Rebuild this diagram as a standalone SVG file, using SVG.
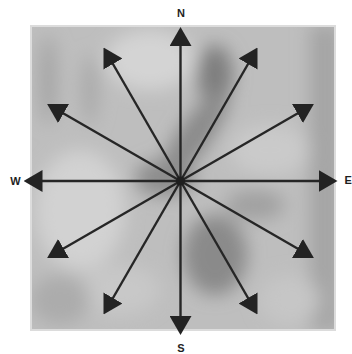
<svg xmlns="http://www.w3.org/2000/svg" width="352" height="354" viewBox="0 0 352 354">
  <defs>
    <filter id="blur" x="-20%" y="-20%" width="140%" height="140%">
      <feGaussianBlur stdDeviation="9"/>
    </filter>
    <clipPath id="sq">
      <rect x="30" y="25" width="306" height="306"/>
    </clipPath>
    <marker id="head" markerUnits="userSpaceOnUse" viewBox="0 0 19 22" markerWidth="19" markerHeight="22" refX="7" refY="11" orient="auto">
      <path d="M0,0 L19,11 L0,22 Z" fill="#232323"/>
    </marker>
  </defs>
  <style>
    .lbl { font-family: "Liberation Sans", Arial, sans-serif; font-weight: bold; font-size: 11px; fill: #1e1e1e; text-anchor: middle; }
    .arr { stroke: #262626; stroke-width: 2.4; fill: none; marker-end: url(#head); }
  </style>
  <rect width="352" height="354" fill="#ffffff"/>
  <g id="background" clip-path="url(#sq)">
    <rect x="30" y="25" width="306" height="306" fill="#bebebe"/>
    <g filter="url(#blur)">
      <ellipse cx="150" cy="60" rx="45" ry="30" fill="#d4d4d4"/>
      <ellipse cx="80" cy="210" rx="45" ry="60" fill="#d2d2d2"/>
      <ellipse cx="270" cy="150" rx="40" ry="25" fill="#cacaca"/>
      <ellipse cx="120" cy="290" rx="40" ry="25" fill="#c8c8c8"/>
      <ellipse cx="48" cy="80" rx="8" ry="45" fill="#a2a2a2"/>
      <ellipse cx="90" cy="90" rx="8" ry="35" fill="#a8a8a8"/>
      <rect x="310" y="25" width="30" height="306" fill="#a4a4a4"/>
      <ellipse cx="215" cy="75" rx="18" ry="30" fill="#7e7e7e"/>
      <ellipse cx="195" cy="135" rx="16" ry="55" transform="rotate(35 195 135)" fill="#8a8a8a"/>
      <ellipse cx="165" cy="178" rx="30" ry="18" fill="#8c8c8c"/>
      <ellipse cx="215" cy="255" rx="32" ry="40" fill="#8a8a8a"/>
      <ellipse cx="255" cy="205" rx="30" ry="15" fill="#a0a0a0"/>
      <ellipse cx="60" cy="300" rx="30" ry="25" fill="#acacac"/>
      <ellipse cx="290" cy="300" rx="30" ry="25" fill="#c6c6c6"/>
    </g>
    <rect x="31" y="26" width="304" height="304" fill="none" stroke="#dcdcdc" stroke-width="2"/>
  </g>
  <g id="connectors">
    <line class="arr" x1="180.5" y1="181" x2="180.5" y2="39"/>
    <line class="arr" x1="180.5" y1="181" x2="251.5" y2="58"/>
    <line class="arr" x1="180.5" y1="181" x2="303.5" y2="110"/>
    <line class="arr" x1="180.5" y1="181" x2="325.5" y2="181"/>
    <line class="arr" x1="180.5" y1="181" x2="303.5" y2="252"/>
    <line class="arr" x1="180.5" y1="181" x2="251.5" y2="304"/>
    <line class="arr" x1="180.5" y1="181" x2="180.5" y2="323"/>
    <line class="arr" x1="180.5" y1="181" x2="109.5" y2="304"/>
    <line class="arr" x1="180.5" y1="181" x2="57.5" y2="252"/>
    <line class="arr" x1="180.5" y1="181" x2="35.5" y2="181"/>
    <line class="arr" x1="180.5" y1="181" x2="57.5" y2="110"/>
    <line class="arr" x1="180.5" y1="181" x2="109.5" y2="58"/>
  </g>
  <g id="center">
    <circle cx="180.5" cy="181" r="4.5" fill="#1e1e1e"/>
  </g>
  <g id="label-N"><text class="lbl" x="181" y="17">N</text></g>
  <g id="label-W"><text class="lbl" x="15.5" y="185">W</text></g>
  <g id="label-E"><text class="lbl" x="344.5" y="184" style="text-anchor:start">E</text></g>
  <g id="label-S"><text class="lbl" x="181" y="352">S</text></g>
</svg>
